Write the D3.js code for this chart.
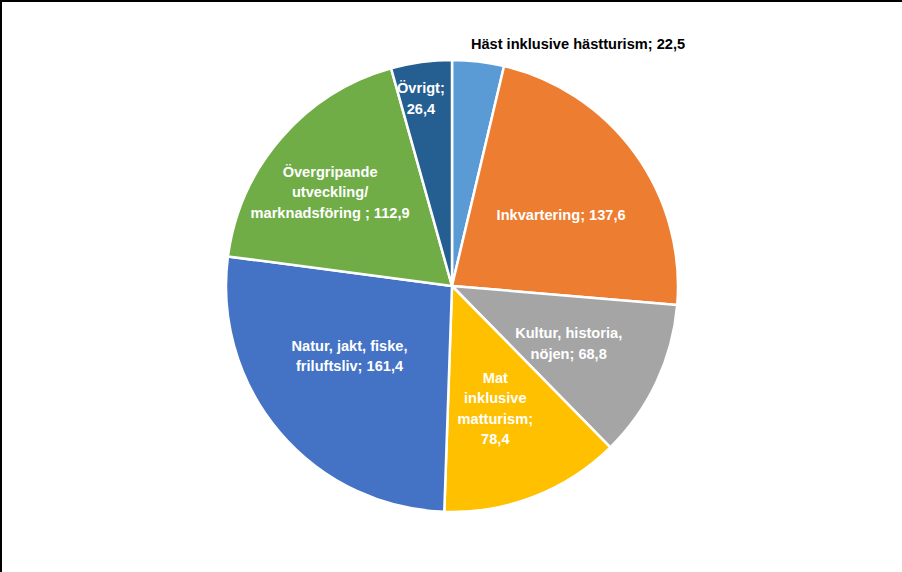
<!DOCTYPE html>
<html><head><meta charset="utf-8">
<script src="https://cdn.jsdelivr.net/npm/d3@7"></script>
<style>
html,body{margin:0;padding:0;background:#fff;}
svg{display:block;}
</style></head>
<body>
<script>
const categories = ["Häst inklusive hästturism","Inkvartering","Kultur, historia, nöjen","Mat inklusive matturism","Natur, jakt, fiske, friluftsliv","Övergripande utveckling/ marknadsföring ","Övrigt"];
const values = [22.5,137.6,68.8,78.4,161.4,112.9,26.4];
const labelLines = [
  ["Häst inklusive hästturism; 22,5"],
  ["Inkvartering; 137,6"],
  ["Kultur, historia,","nöjen; 68,8"],
  ["Mat","inklusive","matturism;","78,4"],
  ["Natur, jakt, fiske,","friluftsliv; 161,4"],
  ["Övergripande","utveckling/","marknadsföring ; 112,9"],
  ["Övrigt;","26,4"]
];
const colors = ["#5B9BD5","#ED7D31","#A5A5A5","#FFC000","#4472C4","#70AD47","#255E91"];

const W=902,H=572, cx=452, cy=286, R=226;
const svg=d3.select("body").append("svg").attr("width",W).attr("height",H);
svg.append("rect").attr("width",W).attr("height",H).attr("fill","#fff");
svg.append("line").attr("x1",0).attr("y1",1).attr("x2",W).attr("y2",1).attr("stroke","#000").attr("stroke-width",2);
svg.append("line").attr("x1",1).attr("y1",0).attr("x2",1).attr("y2",H).attr("stroke","#000").attr("stroke-width",2);

const data = categories.map((c,i)=>({c,v:values[i],lines:labelLines[i],col:colors[i]}));
const pie=d3.pie().value(d=>d.v).sort(null);
const arcs=pie(data);
const arc=d3.arc().innerRadius(0).outerRadius(R);
const g=svg.append("g").attr("transform",`translate(${cx},${cy})`);
g.selectAll("path").data(arcs).join("path").attr("d",arc)
  .attr("fill",d=>d.data.col).attr("stroke","#fff").attr("stroke-width",2.5).attr("stroke-linejoin","round");

const lh=20.5;
const radFor = i => ({4:124,5:154,6:190}[i] || 130);
const angOff = i => ({4:6,5:-3.3,6:-1.6,1:3,2:1,3:1.8}[i] || 0) * Math.PI/180;
arcs.forEach((a,i)=>{
  let x,y,fill="#fff";
  if(i===0){
    x=126; y=-242; fill="#000";
  } else {
    const ang=(a.startAngle+a.endAngle)/2+angOff(i);
    const r=radFor(i);
    x=r*Math.sin(ang); y=-r*Math.cos(ang);
  }
  const n=a.data.lines.length;
  const t=g.append("text").attr("text-anchor","middle").attr("fill",fill)
    .attr("font-family","'Liberation Sans', Arial, sans-serif").attr("font-weight","bold").attr("font-size","14.6px");
  a.data.lines.forEach((l,k)=>{
    t.append("tspan").attr("x",x).attr("y",y+(k-(n-1)/2)*lh).attr("dy","0.35em").text(l);
  });
});
</script>
</body></html>
